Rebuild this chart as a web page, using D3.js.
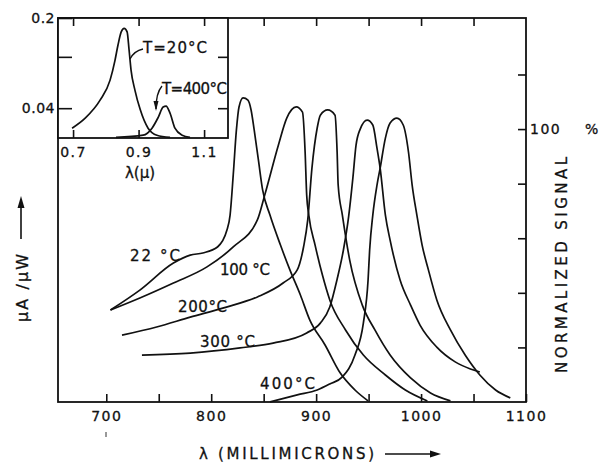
<!DOCTYPE html>
<html>
<head>
<meta charset="utf-8">
<script src="https://cdn.jsdelivr.net/npm/d3@7"></script>
<style>
  body { margin: 0; background: #fff; }
  svg { display: block; }
  text { font-family: "DejaVu Sans", sans-serif; fill: #111; stroke: #111; stroke-width: 0.3px; }
</style>
</head>
<body>
<svg class="chart"></svg>
<script>
// main plot: wavelength (nm) vs normalized signal (%)
var curve22 = [[704,33.7],[732,41.0],[764,50.9],[780,53.8],[792,54.6],[806,56.8],[815,63.0],[818,68.5],[821,83.2],[824,99.6],[826.5,108.1],[830.4,111.4],[835,110.6],[838,107],[841,99.6],[845,88.6],[849,77.7],[856,68.5],[866,57.5],[875,48.4],[885,39.2],[894,30.0],[908.5,20.9],[923,10.6],[937,4.4],[949.5,0.4]];
var curve100 = [[704,33.7],[732,38.1],[764,43.6],[796,49.5],[821,56.8],[844,66.7],[851,75.8],[864,94.1],[872,104],[881,108.1],[887,106.2],[889.5,91.6],[891,75.8],[893,68.5],[899,57.5],[906,46.5],[913,37.4],[928,26.4],[945,17.2],[966,9.9],[985,4.4],[1006,0.4]];
var curve200 = [[715,24.5],[748,27.5],[780,31.1],[811,34.4],[844,38.5],[868.5,43.6],[882,48.4],[888,56.8],[892,66.7],[896,85.7],[901,100.4],[904,105.1],[911,107],[918,105.1],[920,91.6],[921,79.5],[925,68.5],[932,52],[944,35.5],[956,26.4],[970.5,17.2],[990,8.8],[1009,3.3],[1028,0.4]];
var curve300 = [[734,17.2],[780,17.9],[827.5,19.8],[859,21.6],[891,25.3],[904,28.9],[913,34.8],[920,45],[926,55.7],[931,68],[935,82],[938,94],[942,100],[948.6,103.3],[954,101.5],[958,93],[961,85.7],[966,68.5],[970.5,59.3],[980,44.7],[990,35.5],[999,28.2],[1015,20.1],[1032.5,14.7],[1047,12.1],[1056,11]];
var curve400 = [[856,0],[882,2.6],[901,4.4],[913,6.6],[925,9.2],[937,17.2],[945,28.9],[949.5,44.7],[951,55.7],[954,68.5],[958,79.5],[961,85.7],[966,96.7],[970.5,102.2],[977,104],[983,101.5],[988,91.6],[991.5,79.5],[996,68.5],[1001,57.5],[1007,48.4],[1015,37.4],[1028,26.4],[1042,17.2],[1056,9.9],[1071,4.4],[1085,1.5]];

var curveLabels = ["22 °C", "100 °C", "200°C", "300 °C", "400°C"];
var xTicks = [700, 750, 800, 850, 900, 950, 1000, 1050, 1100];
var xTopTicks = [850, 900, 950, 1000, 1050];
var yRightTicks = [20, 40, 60, 80, 100, 120];

// inset: wavelength (micron) vs uA/uW
var inset20 = [[0.697,0.028],[0.737,0.0335],[0.782,0.046],[0.813,0.066],[0.828,0.094],[0.837,0.123],[0.847,0.156],[0.856,0.166],[0.865,0.156],[0.871,0.113],[0.877,0.079],[0.889,0.055],[0.905,0.039],[0.929,0.028],[0.956,0.0247],[0.996,0.0238]];
var inset400 = [[0.831,0.0238],[0.914,0.0247],[0.941,0.028],[0.960,0.034],[0.975,0.0408],[0.984,0.0415],[0.996,0.0366],[1.011,0.028],[1.033,0.0247],[1.057,0.0238]];
var insetXTicks = [0.7, 0.9, 1.1];
var insetYTicks = [0.2, 0.1, 0.04];
var insetYLabels = ["0.2", "", "0.04"];

function draw() {
    var W = 601, H = 462;
    var svg = d3.select(".chart").attr("width", W).attr("height", H);

    var x = d3.scaleLinear().domain([654, 1100]).range([58, 526]);
    var y = d3.scaleLinear().domain([0, 140.7]).range([402, 18]);

    var line = d3.line()
        .x(function(d) { return x(d[0]); })
        .y(function(d) { return y(d[1]); })
        .curve(d3.curveMonotoneX);

    // curves
    [curve22, curve100, curve200, curve300, curve400].forEach(function(c) {
        svg.append("path")
            .attr("d", line(c))
            .attr("fill", "none")
            .attr("stroke", "#111")
            .attr("stroke-width", 1.7);
    });

    // axes (ticks point inward)
    var axBottom = svg.append("g").attr("transform", "translate(0,402)")
        .call(d3.axisBottom(x).tickValues(xTicks).tickSize(-8).tickPadding(9)
            .tickFormat(function(d) { return d % 100 === 0 ? d : ""; }));
    var axTop = svg.append("g").attr("transform", "translate(0,18)")
        .call(d3.axisTop(x).tickValues(xTopTicks).tickSize(-8).tickFormat(""));
    var axRight = svg.append("g").attr("transform", "translate(526,0)")
        .call(d3.axisRight(y).tickValues(yRightTicks).tickSize(-8).tickPadding(4)
            .tickFormat(function(d) { return d === 100 ? "100" : ""; }));

    function styleAxis(g) {
        g.select(".domain").remove();
        g.selectAll("line").attr("stroke", "#111").attr("stroke-width", 1.6);
        g.selectAll("text").attr("font-family", "DejaVu Sans").attr("font-size", 14)
            .attr("letter-spacing", 1.5).attr("fill", "#111");
    }
    [axBottom, axTop, axRight].forEach(styleAxis);

    svg.append("rect")
        .attr("x", 58).attr("y", 18).attr("width", 526 - 58).attr("height", 402 - 18)
        .attr("fill", "none").attr("stroke", "#111").attr("stroke-width", 1.8);

    svg.append("text").attr("x", 585).attr("y", 134).attr("font-size", 14).text("%");

    // curve labels
    var labelPos = [[130, 261], [220, 275], [178, 312], [200, 347], [260, 389]];
    var labelLen = [50, 50, 49, 55, 55];
    curveLabels.forEach(function(t, i) {
        svg.append("text")
            .attr("x", labelPos[i][0]).attr("y", labelPos[i][1])
            .attr("font-size", 15)
            .attr("textLength", labelLen[i]).attr("lengthAdjust", "spacing")
            .text(t);
    });

    // axis titles
    svg.append("text").attr("x", 199).attr("y", 459).attr("font-size", 15)
        .attr("textLength", 175).attr("lengthAdjust", "spacing")
        .text("λ (MILLIMICRONS)");
    svg.append("line").attr("x1", 385).attr("y1", 454).attr("x2", 432).attr("y2", 454)
        .attr("stroke", "#111").attr("stroke-width", 1.6);
    svg.append("path").attr("d", "M430,450.5 L441,454 L430,457.5 Z").attr("fill", "#111");

    svg.append("text").attr("transform", "translate(567,265) rotate(-90)")
        .attr("text-anchor", "middle").attr("font-size", 15)
        .attr("textLength", 216).attr("lengthAdjust", "spacing")
        .text("NORMALIZED SIGNAL");

    svg.append("text").attr("transform", "translate(28,288) rotate(-90)")
        .attr("text-anchor", "middle").attr("font-size", 16)
        .attr("textLength", 68).attr("lengthAdjust", "spacing")
        .text("μA /μW");
    svg.append("line").attr("x1", 21).attr("y1", 239).attr("x2", 21).attr("y2", 205)
        .attr("stroke", "#111").attr("stroke-width", 1.6);
    svg.append("path").attr("d", "M17.5,208 L21,196 L24.5,208 Z").attr("fill", "#111");

    // stray mark under the 700 label
    svg.append("line").attr("x1", 106).attr("y1", 432).attr("x2", 106).attr("y2", 437)
        .attr("stroke", "#333").attr("stroke-width", 1);

    // ---------------- inset ----------------
    var ix = d3.scaleLinear().domain([0.654, 1.173]).range([58, 228]);
    var iy = d3.scaleLog().domain([0.0235, 0.2]).range([138, 18]);

    var inset = svg.append("g");
    inset.append("rect").attr("x", 58).attr("y", 18).attr("width", 170).attr("height", 120)
        .attr("fill", "#fff");

    var iline = d3.line()
        .x(function(d) { return ix(d[0]); })
        .y(function(d) { return iy(d[1]); })
        .curve(d3.curveMonotoneX);

    [inset20, inset400].forEach(function(c) {
        inset.append("path").attr("d", iline(c))
            .attr("fill", "none").attr("stroke", "#111").attr("stroke-width", 1.7);
    });

    var ib = inset.append("g").attr("transform", "translate(0,138)")
        .call(d3.axisBottom(ix).tickValues(insetXTicks).tickSize(-8).tickPadding(9)
            .tickFormat(d3.format(".1f")));
    var it = inset.append("g").attr("transform", "translate(0,18)")
        .call(d3.axisTop(ix).tickValues(insetXTicks).tickSize(-8).tickFormat(""));
    var il = inset.append("g").attr("transform", "translate(58,0)")
        .call(d3.axisLeft(iy).tickValues(insetYTicks).tickSize(-14).tickPadding(3)
            .tickFormat(function(d, i) { return insetYLabels[i]; }));
    var ir = inset.append("g").attr("transform", "translate(228,0)")
        .call(d3.axisRight(iy).tickValues(insetYTicks.slice(1)).tickSize(-10).tickFormat(""));
    [ib, it, il, ir].forEach(styleAxis);
    il.selectAll("text").attr("letter-spacing", 0.5);

    inset.append("rect").attr("x", 58).attr("y", 18).attr("width", 170).attr("height", 120)
        .attr("fill", "none").attr("stroke", "#111").attr("stroke-width", 1.8);

    inset.append("text").attr("x", 140).attr("y", 178).attr("text-anchor", "middle")
        .attr("font-size", 15).text("λ(μ)");

    // inset annotations with leaders
    inset.append("text").attr("x", 143).attr("y", 53).attr("font-size", 15)
        .attr("textLength", 64).attr("lengthAdjust", "spacing").text("T=20°C");
    inset.append("path").attr("d", "M130,59 Q134,51 143,49")
        .attr("fill", "none").attr("stroke", "#111").attr("stroke-width", 1.4);

    inset.append("text").attr("x", 162).attr("y", 94).attr("font-size", 15)
        .attr("textLength", 65).attr("lengthAdjust", "spacing").text("T=400°C");
    inset.append("path").attr("d", "M156,109 Q156,93 162,86")
        .attr("fill", "none").attr("stroke", "#111").attr("stroke-width", 1.4);
    inset.append("path").attr("d", "M153.5,101 L156,111 L158.5,101 Z").attr("fill", "#111");
}

draw();
</script>
</body>
</html>
